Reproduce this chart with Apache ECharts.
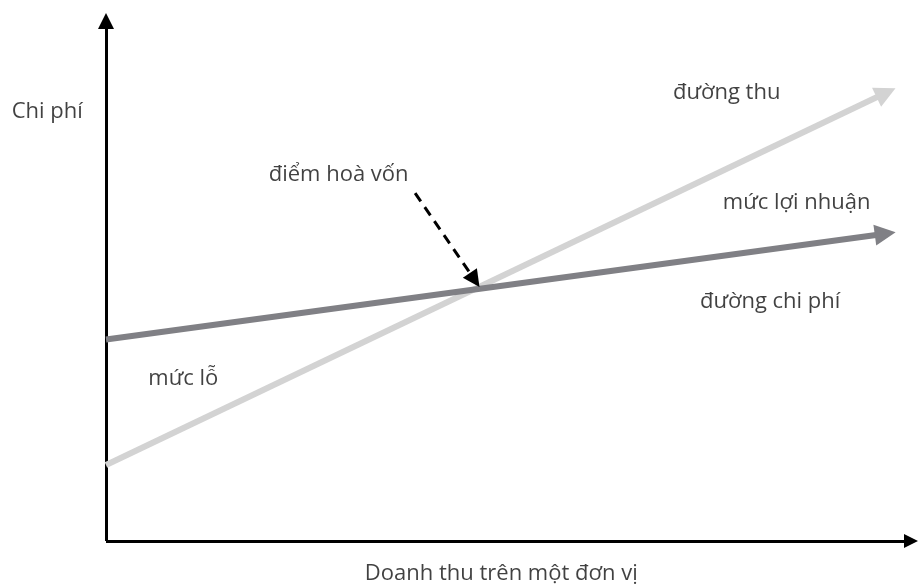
<!DOCTYPE html>
<html>
<head>
<meta charset="utf-8">
<script src="https://cdn.jsdelivr.net/npm/echarts@6/dist/echarts.min.js"></script>
<style>
    html, body { margin: 0; padding: 0; background: #fff; }
    #breakEven { width: 918px; height: 587px; }
</style>
</head>
<body>
<div id="breakEven"></div>
<script>
// toa do 0..100 tren ca hai truc
const axisXLine = [[0, 0], [100, 0]];
const axisYLine = [[0, 0], [0, 100]];
const revenueLine = [[0, 14.6], [96.9, 86.2]];
const costLine = [[0, 38.75], [96.8, 59.1]];
const breakEvenArrow = [[38.4, 66.9], [45.8, 50.2]];

const labelNames = ['Chi phí', 'đường thu', 'điểm hoà vốn', 'mức lợi nhuận', 'đường chi phí', 'mức lỗ', 'Doanh thu trên một đơn vị'];
const labelX = [-7.3, 77.1, 28.9, 85.8, 82.5, 9.6, 49.1];
const labelY = [82.5, 86.2, 70.4, 65.0, 46.0, 31.3, -6.3];

const myChart = echarts.init(document.getElementById('breakEven'));

function arrowSeries(coords, color, width, size, dashed) {
    return {
        type: 'lines',
        coordinateSystem: 'cartesian2d',
        clip: false,
        symbol: ['none', 'triangle'],
        symbolSize: size,
        silent: true,
        lineStyle: {
            color: color,
            width: width,
            opacity: 1,
            curveness: 0,
            type: dashed ? [10, 7] : 'solid'
        },
        data: [{ coords: coords }]
    };
}

let option = {
    animation: false,
    backgroundColor: '#fff',
    grid: { left: 106, top: 21, right: 7, bottom: 46 },
    xAxis: { type: 'value', min: 0, max: 100, show: false },
    yAxis: { type: 'value', min: 0, max: 100, show: false },
    series: [
        arrowSeries(axisXLine, '#000', 3, [16, 14]),
        arrowSeries(axisYLine, '#000', 3, [16, 16]),
        arrowSeries(revenueLine, '#d3d3d3', 6, [26, 21]),
        arrowSeries(costLine, '#808085', 6, [26, 21]),
        arrowSeries(breakEvenArrow, '#000', 3, [17, 17], true),
        {
            type: 'scatter',
            clip: false,
            silent: true,
            symbolSize: 0,
            label: {
                show: true,
                position: 'inside',
                formatter: '{b}',
                color: '#111',
                fontFamily: 'Open Sans',
                fontSize: 22
            },
            data: labelNames.map((n, i) => ({ name: n, value: [labelX[i], labelY[i]] }))
        }
    ]
};
myChart.setOption(option);
</script>
</body>
</html>
